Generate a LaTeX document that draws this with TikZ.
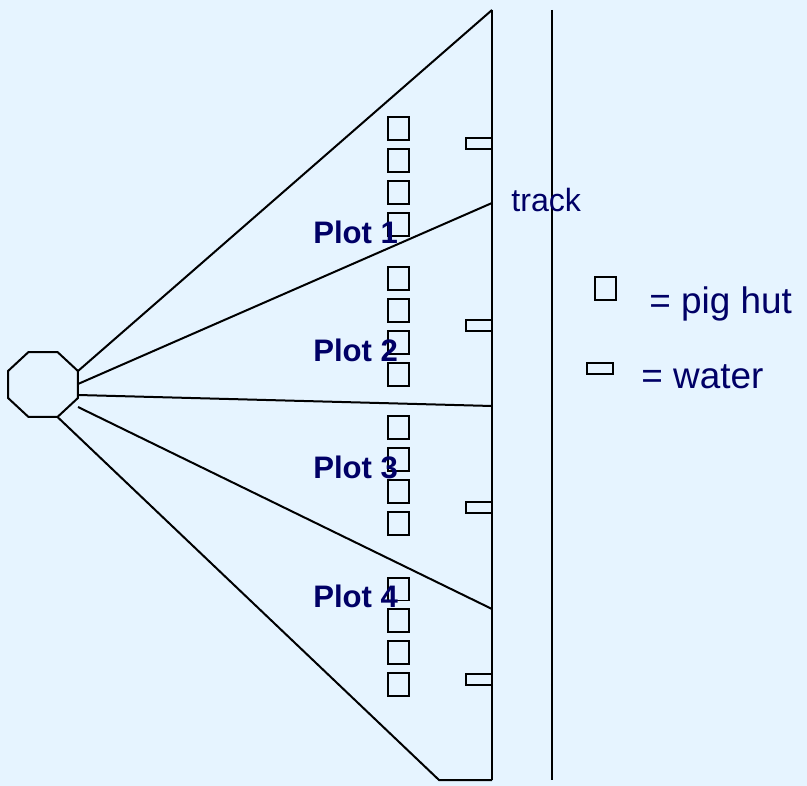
\documentclass[tikz,border=0pt]{standalone}
\usepackage{fontspec}
\setmainfont{Liberation Sans}
\usepackage{tikz}
\usetikzlibrary{shapes.geometric, positioning}
\definecolor{paleblue}{RGB}{230, 244, 255}
\definecolor{labelnavy}{RGB}{0, 0, 102}

\begin{document}
\begin{tikzpicture}[
        x=0.02cm, y=-0.02cm,
        % --- TikZ Styles ---
        fence/.style={draw=black, line width=0.04cm},
        hutbox/.style={fence, rectangle, minimum width=0.42cm, minimum height=0.46cm, inner sep=0pt, outer sep=0pt},
        waterbox/.style={fence, rectangle, minimum width=0.52cm, minimum height=0.22cm, inner sep=0pt, outer sep=0pt},
        plotlabel/.style={text=labelnavy, font=\fontsize{17.7}{20}\selectfont\bfseries, inner sep=0pt, anchor=base west},
        tracklabel/.style={text=labelnavy, font=\fontsize{18.3}{20}\selectfont, inner sep=0pt, anchor=base west},
        keylabel/.style={text=labelnavy, font=\fontsize{21}{24}\selectfont, inner sep=0pt, anchor=base west}
    ]

    % --- 1. BACKGROUND ---
    \fill[paleblue] (0,0) rectangle (807,786);
    \useasboundingbox (0,0) rectangle (807,786);

    % --- 2. YARD AND FIELD EDGE ---
    \node[fence, regular polygon, regular polygon sides=8,
        minimum size=1.407cm, inner sep=0pt, outer sep=0pt, xscale=1.077, transform shape] (yard) at (43,384.5) {};

    \coordinate (edge_top) at (492,10);
    \coordinate (edge_a) at (492,203);
    \coordinate (edge_b) at (492,406);
    \coordinate (edge_c) at (492,609);
    \coordinate (edge_bot) at (492,780);
    \coordinate (corner_bot) at (439,780);
    \coordinate (track_top) at (552,10);
    \coordinate (track_bot) at (552,780);
    \coordinate (gate_a) at (78,384);
    \coordinate (gate_b) at (78,395);
    \coordinate (gate_c) at (78,407);

    % --- 3. PIG HUTS ---
    \node[hutbox] (hut11) at (398.5,128.5) {};
    \node[hutbox, below=0.18cm of hut11] (hut12) {};
    \node[hutbox, below=0.18cm of hut12] (hut13) {};
    \node[hutbox, below=0.18cm of hut13] (hut14) {};

    \node[hutbox] (hut21) at (398.5,278.5) {};
    \node[hutbox, below=0.18cm of hut21] (hut22) {};
    \node[hutbox, below=0.18cm of hut22] (hut23) {};
    \node[hutbox, below=0.18cm of hut23] (hut24) {};

    \node[hutbox] (hut31) at (398.5,427.5) {};
    \node[hutbox, below=0.18cm of hut31] (hut32) {};
    \node[hutbox, below=0.18cm of hut32] (hut33) {};
    \node[hutbox, below=0.18cm of hut33] (hut34) {};

    \node[hutbox] (hut41) at (398.5,589) {};
    \node[hutbox, below=0.18cm of hut41] (hut42) {};
    \node[hutbox, below=0.18cm of hut42] (hut43) {};
    \node[hutbox, below=0.18cm of hut43] (hut44) {};

    % --- 4. WATER POINTS ---
    \node[waterbox] (water1) at (479,144) {};
    \node[waterbox] (water2) at (479,325.5) {};
    \node[waterbox] (water3) at (479,507.5) {};
    \node[waterbox] (water4) at (479,679.5) {};

    % --- CONNECTIONS ---
    \draw[fence] (yard.corner 8) -- (edge_top);
    \draw[fence] (gate_a) -- (edge_a);
    \draw[fence] (gate_b) -- (edge_b);
    \draw[fence] (gate_c) -- (edge_c);
    \draw[fence] (yard.corner 6) -- (corner_bot) -- (edge_bot);
    \draw[fence] (edge_top) -- (edge_bot);
    \draw[fence] (track_top) -- (track_bot);

    % --- 5. LABELS ---
    \node[plotlabel] (plot1) at (313,244) {Plot 1};
    \node[plotlabel] (plot2) at (313,362) {Plot 2};
    \node[plotlabel] (plot3) at (313,479) {Plot 3};
    \node[plotlabel] (plot4) at (313,607) {Plot 4};
    \node[tracklabel] (track) at (511,212) {track};

    % --- 6. KEY ---
    \node[hutbox] (keyhut) at (605.5,289) {};
    \node[waterbox] (keywater) at (600,368.5) {};
    \node[keylabel] (keyhuttext) at (649,314) {= pig hut};
    \node[keylabel] (keywatertext) at (641,389) {= water};

\end{tikzpicture}
\end{document}
